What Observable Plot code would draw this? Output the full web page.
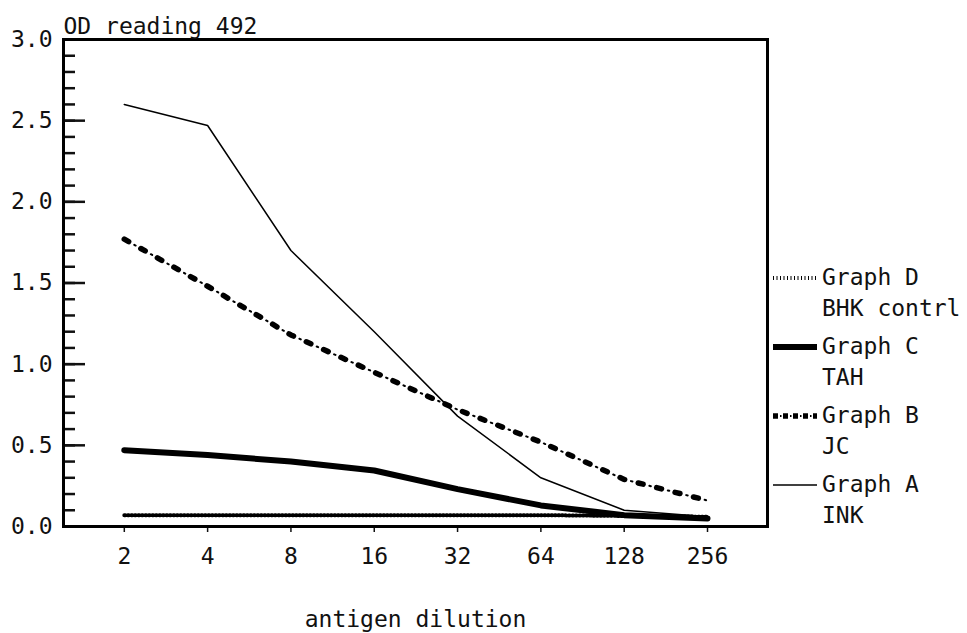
<!DOCTYPE html>
<html>
<head>
<meta charset="utf-8">
<script src="https://cdn.jsdelivr.net/npm/d3@7"></script>
<script src="https://cdn.jsdelivr.net/npm/@observablehq/plot@0.6"></script>
<style>
  html, body { margin: 0; padding: 0; background: #fff; }
  #wrap { position: relative; width: 967px; height: 633px; font-family: "DejaVu Sans Mono", monospace; color: #111; }
  #legend { position: absolute; left: 0; top: 0; width: 967px; height: 633px; pointer-events: none; }
  .lt { position: absolute; font-size: 23px; line-height: 26px; white-space: pre; }
</style>
</head>
<body>
<div id="wrap"></div>
<script>
// ---- data ----
const dilution = [2, 4, 8, 16, 32, 64, 128, 256];
const graphA_INK = [2.60, 2.47, 1.70, 1.20, 0.68, 0.30, 0.10, 0.06];
const graphB_JC = [1.77, 1.48, 1.18, 0.95, 0.72, 0.52, 0.29, 0.16];
const graphC_TAH = [0.47, 0.44, 0.40, 0.345, 0.23, 0.13, 0.07, 0.05];
const graphD_BHK = [0.07, 0.07, 0.07, 0.07, 0.07, 0.07, 0.065, 0.06];
const yMajorTicks = [0, 0.5, 1.0, 1.5, 2.0, 2.5, 3.0];
const yMinorTicks = d3.range(0, 31).map(i => i / 10);
const xTicks = [2, 4, 8, 16, 32, 64, 128, 256];
const yTitle = "OD reading 492";
const xTitle = "antigen dilution";
const legendItems = [
  {key: "D", line1: "Graph D", line2: "BHK contrl"},
  {key: "C", line1: "Graph C", line2: "TAH"},
  {key: "B", line1: "Graph B", line2: "JC"},
  {key: "A", line1: "Graph A", line2: "INK"}
];

const rows = (vals) => dilution.map((d, i) => ({d, v: vals[i]}));
const A = rows(graphA_INK), B = rows(graphB_JC), C = rows(graphC_TAH), D = rows(graphD_BHK);

const FONT = "DejaVu Sans Mono";
const chart = Plot.plot({
  width: 967,
  height: 633,
  marginLeft: 63,
  marginRight: 200,
  marginTop: 39,
  marginBottom: 107,
  style: {fontFamily: FONT, fontSize: "23px", color: "#111", background: "#fff"},
  x: {type: "log", base: 2, domain: [1.206, 421.7]},
  y: {domain: [0, 3]},
  marks: [
    Plot.axisY(yMinorTicks, {anchor: "right", frameAnchor: "left", tickSize: 11, strokeWidth: 2.5, tickFormat: () => "", label: null}),
    Plot.axisY(yMajorTicks, {anchor: "right", frameAnchor: "left", tickSize: 21, strokeWidth: 2.5, tickFormat: () => "", label: null}),
    Plot.axisY(yMajorTicks, {anchor: "left", tickSize: 0, tickPadding: 11, tickFormat: d3.format(".1f"), label: null, fontSize: 23}),
    Plot.axisX(xTicks, {tickSize: 6, tickPadding: 15, strokeWidth: 1.5, tickFormat: d => String(d), label: null, fontSize: 23}),
    Plot.frame({stroke: "#000", strokeWidth: 3}),
    // Graph D: fine dotted band
    Plot.line(D, {x: "d", y: "v", stroke: "#000", strokeWidth: 4, strokeDasharray: "1,2.5"}),
    // Graph C: thick
    Plot.line(C, {x: "d", y: "v", stroke: "#000", strokeWidth: 6}),
    // Graph B: dash-dot (squares + thin ticks)
    Plot.line(B, {x: "d", y: "v", stroke: "#000", strokeWidth: 5.5, strokeDasharray: "5,14"}),
    Plot.line(B, {x: "d", y: "v", stroke: "#000", strokeWidth: 2, strokeDasharray: "1.5,17.5", strokeDashoffset: -11.5}),
    // Graph A: thin solid
    Plot.line(A, {x: "d", y: "v", stroke: "#000", strokeWidth: 1.5}),
    Plot.text([yTitle], {frameAnchor: "top-left", textAnchor: "start", lineAnchor: "bottom", dx: 0, dy: -6, fontSize: 23, fill: "#111"}),
    Plot.text([xTitle], {frameAnchor: "bottom", textAnchor: "middle", lineAnchor: "top", dy: 84, fontSize: 23, fill: "#111"})
  ]
});
const wrap = document.getElementById("wrap");
wrap.appendChild(chart);

// ---- legend (right side) ----
const legend = d3.select(wrap).append("div").attr("id", "legend");
const svg = legend.append("svg").attr("width", 967).attr("height", 633).style("position", "absolute").style("left", 0).style("top", 0);
const styles = {
  D: [{w: 4, dash: "1,2.5"}],
  C: [{w: 6, dash: null}],
  B: [{w: 5.5, dash: "5,5"}, {w: 2, dash: "1.5,8.5", off: -7}],
  A: [{w: 1.5, dash: null}]
};
const top0 = 278, step = 69, sub = 31;
legendItems.forEach((it, i) => {
  const y = top0 + i * step;
  for (const s of styles[it.key]) {
    const ln = svg.append("line").attr("x1", 773).attr("x2", 817).attr("y1", y).attr("y2", y)
      .attr("stroke", "#000").attr("stroke-width", s.w);
    if (s.dash) ln.attr("stroke-dasharray", s.dash);
    if (s.off) ln.attr("stroke-dashoffset", s.off);
  }
  legend.append("div").attr("class", "lt").style("left", "822px").style("top", (y - 14) + "px").text(it.line1);
  legend.append("div").attr("class", "lt").style("left", "822px").style("top", (y + sub - 14) + "px").text(it.line2);
});
</script>
</body>
</html>
